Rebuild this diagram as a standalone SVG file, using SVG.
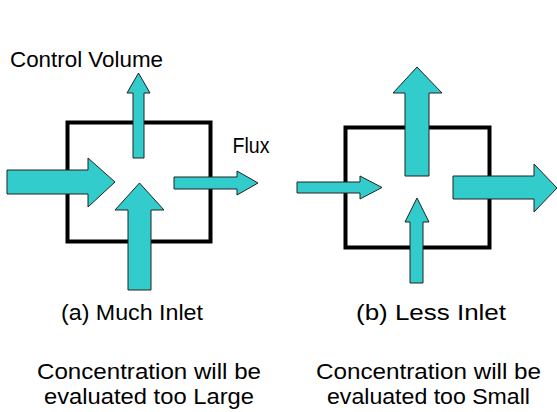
<svg xmlns="http://www.w3.org/2000/svg" width="557" height="412" viewBox="0 0 557 412">
  <style>
    .cv { fill: none; stroke: #000; stroke-width: 4; }
    .flow { fill: #33CCCC; stroke: #222; stroke-width: 1; stroke-linejoin: miter; }
    .lbl { font-family: "Liberation Sans", Arial, sans-serif; font-size: 22px; fill: #000; text-anchor: middle; }
  </style>
  <rect width="557" height="412" fill="#fff"/>

  <!-- (a) control volume with a large inlet -->
  <g id="cv-a">
    <rect class="cv" x="67.5" y="122.5" width="143" height="119"/>
  </g>
  <!-- (b) control volume with a small inlet -->
  <g id="cv-b">
    <rect class="cv" x="345.5" y="127.5" width="144" height="120"/>
  </g>

  <!-- flux arrows -->
  <g id="fluxes">
    <!-- (a) -->
    <polygon class="flow" points="7,170 88,170 88,158 115,182 88,207 88,194 7,194"/>
    <polygon class="flow" points="133,158 133,93 127,93 138.5,73 150,93 144,93 144,158"/>
    <polygon class="flow" points="128,290 128,210 115,210 139.5,183 164,210 151,210 151,290"/>
    <polygon class="flow" points="174,177 237,177 237,171 258,183 237,195 237,189 174,189"/>
    <!-- (b) -->
    <polygon class="flow" points="297,182 360,182 360,176 382,187.5 360,199 360,193 297,193"/>
    <polygon class="flow" points="405,176 405,93 393,93 417,67 442,93 429,93 429,176"/>
    <polygon class="flow" points="410,283 410,222 405,222 417,198 429,222 423,222 423,283"/>
    <polygon class="flow" points="453,176 534,176 534,164 557,188 534,212 534,199 453,199"/>
  </g>

  <g id="label-cv"><text class="lbl" x="86.5" y="67" textLength="153" lengthAdjust="spacingAndGlyphs">Control Volume</text></g>
  <g id="label-flux"><text class="lbl" x="251" y="153" textLength="37" lengthAdjust="spacingAndGlyphs">Flux</text></g>
  <g id="caption-a">
    <text class="lbl" x="132" y="320" textLength="142" lengthAdjust="spacingAndGlyphs">(a) Much Inlet</text>
    <text class="lbl" x="149" y="379" textLength="224" lengthAdjust="spacingAndGlyphs">Concentration will be</text>
    <text class="lbl" x="149" y="404" textLength="210" lengthAdjust="spacingAndGlyphs">evaluated too Large</text>
  </g>
  <g id="caption-b">
    <text class="lbl" x="431" y="320" textLength="150" lengthAdjust="spacingAndGlyphs">(b) Less Inlet</text>
    <text class="lbl" x="428.5" y="379" textLength="225" lengthAdjust="spacingAndGlyphs">Concentration will be</text>
    <text class="lbl" x="428.5" y="404" textLength="203" lengthAdjust="spacingAndGlyphs">evaluated too Small</text>
  </g>
</svg>
